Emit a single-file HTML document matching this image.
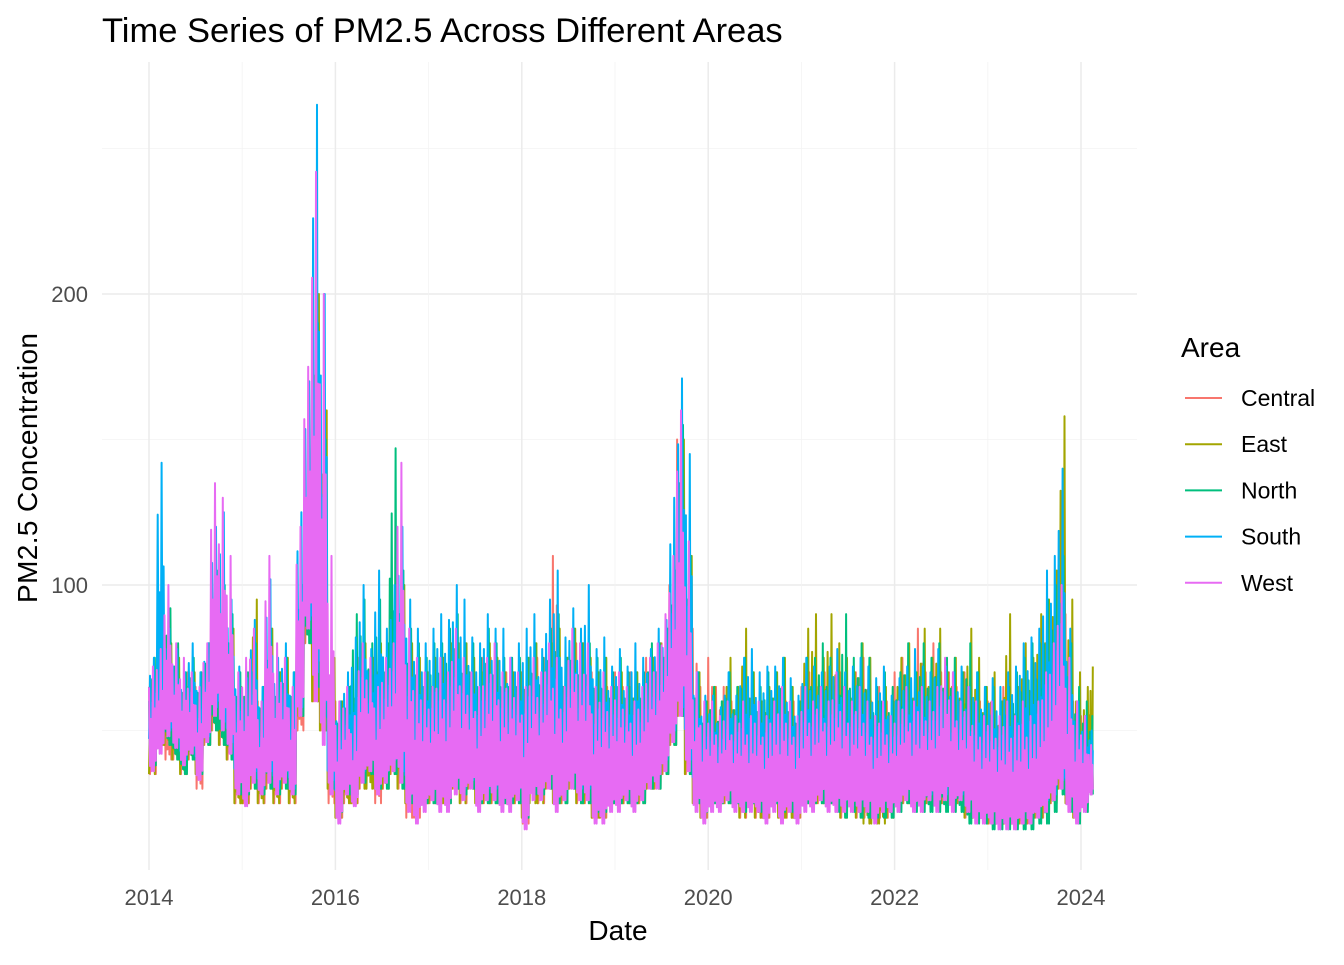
<!DOCTYPE html>
<html><head><meta charset="utf-8">
<style>
body{margin:0;background:#fff;font-family:"Liberation Sans",Arial,sans-serif;}
svg text{font-family:"Liberation Sans",Arial,sans-serif;}
</style></head>
<body>
<svg id="chart" width="1344" height="960" viewBox="0 0 1344 960">
<text x="102" y="42" font-size="34.5" fill="#000">Time Series of PM2.5 Across Different Areas</text>
<g id="grid"></g>
<g id="series"></g>
<g id="axes"></g>
<text x="618" y="940" font-size="28" text-anchor="middle">Date</text>
<text transform="translate(37,468) rotate(-90)" font-size="28" text-anchor="middle" textLength="270">PM2.5 Concentration</text>
<g id="legend">
<text x="1181" y="357" font-size="28">Area</text>
</g>
</svg>
<script>
const areas=["Central","East","North","South","West"];
const colors=["#F8766D","#A3A500","#00BF7D","#00B0F6","#E76BF3"];
const yTicks=[100,200];
const xTickYears=[2014,2016,2018,2020,2022,2024];
// monthly highs / lows starting Jan 2014
const centralHi=[65,70,75,70,60,70,65,70,95,90,80,60, 60,70,60,75,65,70,60,90,130,180,150,70, 60,60,65,75,70,75,70,80,95,75,70,65, 70,70,75,80,75,70,65,75,75,70,70,70, 70,75,75,75,110,70,75,80,80,70,70,65, 70,65,70,65,75,75,80,100,150,100,85,65, 75,65,65,60,60,65,60,60,60,65,60,60, 65,70,65,70,65,70,60,70,75,60,65,60, 70,75,65,85,70,80,70,70,65,70,60,60, 60,55,65,60,65,60,65,70,75,85,90,60, 55,50];
const centralLo=[35,45,40,40,35,40,30,45,50,45,40,25, 25,30,25,30,25,30,25,50,80,60,50,25, 20,25,25,30,35,25,30,35,30,20,20,25, 25,25,25,30,25,30,25,25,25,25,25,25, 18,30,25,30,25,25,30,25,25,20,20,25, 25,25,25,25,30,30,35,45,55,35,25,20, 25,25,25,25,20,25,20,20,25,20,20,20, 25,25,25,25,25,20,25,20,20,20,20,20, 25,25,25,25,25,25,25,25,25,20,20,20, 18,18,18,18,18,18,20,20,25,30,25,20, 25,30];
const eastHi=[70,75,80,75,65,70,65,75,100,95,85,65, 65,95,60,85,70,75,65,100,140,200,160,75, 60,65,70,80,75,80,70,90,100,80,75,70, 75,75,80,80,80,75,70,80,75,70,70,70, 75,80,70,80,85,75,85,80,75,70,75,65, 70,65,70,65,75,80,85,105,150,110,70,60, 65,60,75,65,85,70,60,65,70,75,65,60, 85,90,75,90,80,75,70,80,75,60,65,60, 75,80,70,85,75,85,70,75,70,85,75,65, 70,60,90,65,80,75,90,95,105,158,95,70, 65,72];
const eastLo=[35,45,45,40,35,40,35,45,50,45,40,25, 25,30,25,30,25,30,25,55,80,60,50,30, 20,25,25,30,30,30,30,35,30,25,25,25, 25,25,25,30,25,30,25,25,25,25,25,25, 20,25,25,30,25,25,30,25,25,20,20,25, 25,25,25,25,30,30,35,45,55,35,25,20, 25,25,25,25,20,25,20,20,25,20,20,20, 25,25,25,25,25,20,25,20,18,18,18,20, 25,25,25,25,25,25,25,25,25,20,20,20, 18,18,18,18,18,18,20,20,25,30,25,20, 25,30];
const northHi=[75,80,92,80,70,75,70,80,105,100,90,70, 70,80,65,85,70,75,70,100,140,190,150,70, 60,65,90,95,80,95,80,147,105,85,80,75, 80,80,85,90,80,80,75,85,80,75,75,75, 75,80,75,85,90,75,85,80,80,75,75,70, 75,70,70,70,80,80,85,105,155,110,70,60, 65,60,70,65,75,70,65,70,70,75,65,60, 75,75,80,75,70,90,75,80,75,65,70,65, 70,80,70,80,75,80,75,75,70,80,70,65, 65,60,65,70,75,80,80,95,100,110,80,65, 60,55];
const northLo=[38,48,45,40,35,40,35,45,50,45,40,28, 28,30,28,30,28,30,28,55,80,65,55,30, 22,28,28,32,35,30,30,35,30,25,25,25, 25,28,25,30,28,30,25,25,25,25,25,25, 20,28,28,30,25,25,30,25,25,22,22,25, 25,25,25,25,30,30,35,45,55,35,25,22, 25,25,25,25,22,25,22,22,25,22,22,22, 25,25,25,25,22,20,22,20,20,20,20,20, 22,25,22,22,22,22,22,22,22,18,18,18, 16,16,16,16,16,16,18,18,22,28,22,18, 22,28];
const southHi=[75,142,85,78,70,80,70,80,120,125,95,72, 68,88,65,102,75,80,70,125,170,265,200,65, 60,70,82,100,78,105,85,100,120,95,85,80, 85,90,88,100,95,82,80,90,85,85,75,80, 85,90,78,95,105,82,92,85,100,78,82,72, 78,72,80,75,78,85,88,130,171,145,70,62, 62,58,70,62,75,78,70,72,72,75,68,62, 75,72,70,72,78,70,72,75,72,68,72,62, 68,72,78,72,70,78,72,70,72,65,70,65, 68,65,70,72,80,82,85,105,110,140,85,60, 55,50];
const southLo=[44,53,50,48,40,46,38,48,58,53,46,33, 30,36,30,36,30,36,30,58,88,70,60,33, 26,33,30,36,40,33,36,40,36,28,28,30, 30,30,30,36,30,33,30,30,30,30,30,30, 26,33,30,36,30,30,36,30,30,26,26,30, 30,30,30,30,36,36,40,50,58,40,30,26, 30,30,30,30,26,30,26,26,30,26,26,26, 30,30,30,30,30,26,30,26,26,26,26,26, 28,30,28,28,28,28,28,28,28,26,26,26, 24,23,23,23,24,24,26,26,28,33,28,26, 28,33];
const westHi=[72,78,100,80,75,70,65,80,135,130,110,70, 75,85,60,110,80,75,65,120,175,242,200,110, 60,65,55,80,75,65,75,80,142,85,75,70, 65,75,70,85,75,70,65,75,80,70,75,70, 65,75,70,80,75,65,85,80,80,65,70,65, 70,65,60,65,75,80,90,110,160,115,70,60, 60,55,60,55,60,55,60,55,60,65,60,55, 65,60,65,60,70,65,60,65,60,55,60,55, 60,65,60,65,60,65,75,70,60,65,60,55, 60,55,60,55,60,55,60,70,80,100,75,60, 55,45];
const westLo=[36,42,48,44,38,42,33,46,55,50,42,28, 24,32,28,32,28,32,28,55,85,60,45,28, 18,28,24,32,36,28,32,36,32,22,18,22, 26,22,22,28,26,30,22,26,26,22,22,26, 16,26,26,30,22,26,30,26,26,18,18,22, 22,26,22,26,30,30,36,46,55,36,22,18, 22,22,26,22,22,22,22,18,22,18,22,18, 22,22,26,22,22,22,22,22,22,18,22,22, 22,26,22,22,26,22,26,22,26,22,18,18, 18,16,16,16,18,18,20,22,26,30,22,18, 22,28];
const highs=[centralHi,eastHi,northHi,southHi,westHi];
const lows=[centralLo,eastLo,northLo,southLo,westLo];

const NS="http://www.w3.org/2000/svg";
const X0=149, PX_YEAR=93.2, Y0=876, PX_UNIT=2.91;
const xs=yr=>X0+(yr-2014)*PX_YEAR;
const ys=v=>Y0-v*PX_UNIT;
const grid=document.getElementById('grid');
function line(g,x1,y1,x2,y2,stroke,w){const l=document.createElementNS(NS,'line');l.setAttribute('x1',x1);l.setAttribute('y1',y1);l.setAttribute('x2',x2);l.setAttribute('y2',y2);l.setAttribute('stroke',stroke);l.setAttribute('stroke-width',w);g.appendChild(l);return l;}
for(let v=50;v<=250;v+=50){const major=v%100===0;
 const l=line(grid,102,ys(v),1137,ys(v),major?'#ebebeb':'#f3f3f3',major?1.5:0.8);
 
 }
for(let yr=2014;yr<=2024;yr++){const major=yr%2===0;
 const l=line(grid,xs(yr),62,xs(yr),870,major?'#ebebeb':'#f3f3f3',major?1.5:0.8);
 
 }
const axes=document.getElementById('axes');
yTicks.forEach(v=>{const t=document.createElementNS(NS,'text');t.setAttribute('x',88);t.setAttribute('y',ys(v)+8);t.setAttribute('text-anchor','end');t.setAttribute('font-size','22');t.setAttribute('fill','#4d4d4d');t.textContent=v;
 
 
 axes.appendChild(t);});
xTickYears.forEach(yr=>{const t=document.createElementNS(NS,'text');t.setAttribute('x',xs(yr));t.setAttribute('y',905);t.setAttribute('text-anchor','middle');t.setAttribute('font-size','22');t.setAttribute('fill','#4d4d4d');t.textContent=yr;
 
 
 axes.appendChild(t);});
const sg=document.getElementById('series');
const pattern=[1,0,0.6,0.1,0.8,0.05,0.5,0];
highs.forEach((hi,si)=>{const lo=lows[si];let pts=[];
 for(let m=0;m<hi.length;m++){const n=pattern.length;
  const span=(m===hi.length-1)?0.6:1;
  for(let k=0;k<n;k++){const yr=2014+(m+span*k/n)/12;
   const v=lo[m]+(hi[m]-lo[m])*pattern[(k+si)%n];
   pts.push(xs(yr).toFixed(1)+','+ys(v).toFixed(1));}}
 const p=document.createElementNS(NS,'polyline');p.setAttribute('points',pts.join(' '));p.setAttribute('fill','none');p.setAttribute('stroke',colors[si]);p.setAttribute('stroke-width','2');p.setAttribute('stroke-linejoin','round');
 
 
 sg.appendChild(p);});
const lg=document.getElementById('legend');
areas.forEach((a,i)=>{const y=398+i*46.2;
 const l=line(lg,1185,y,1222,y,colors[i],2);
 
 
 const t=document.createElementNS(NS,'text');t.setAttribute('x',1241);t.setAttribute('y',y+8);t.setAttribute('font-size','23');t.textContent=a;
 
 
 lg.appendChild(t);});
</script>
</body></html>
